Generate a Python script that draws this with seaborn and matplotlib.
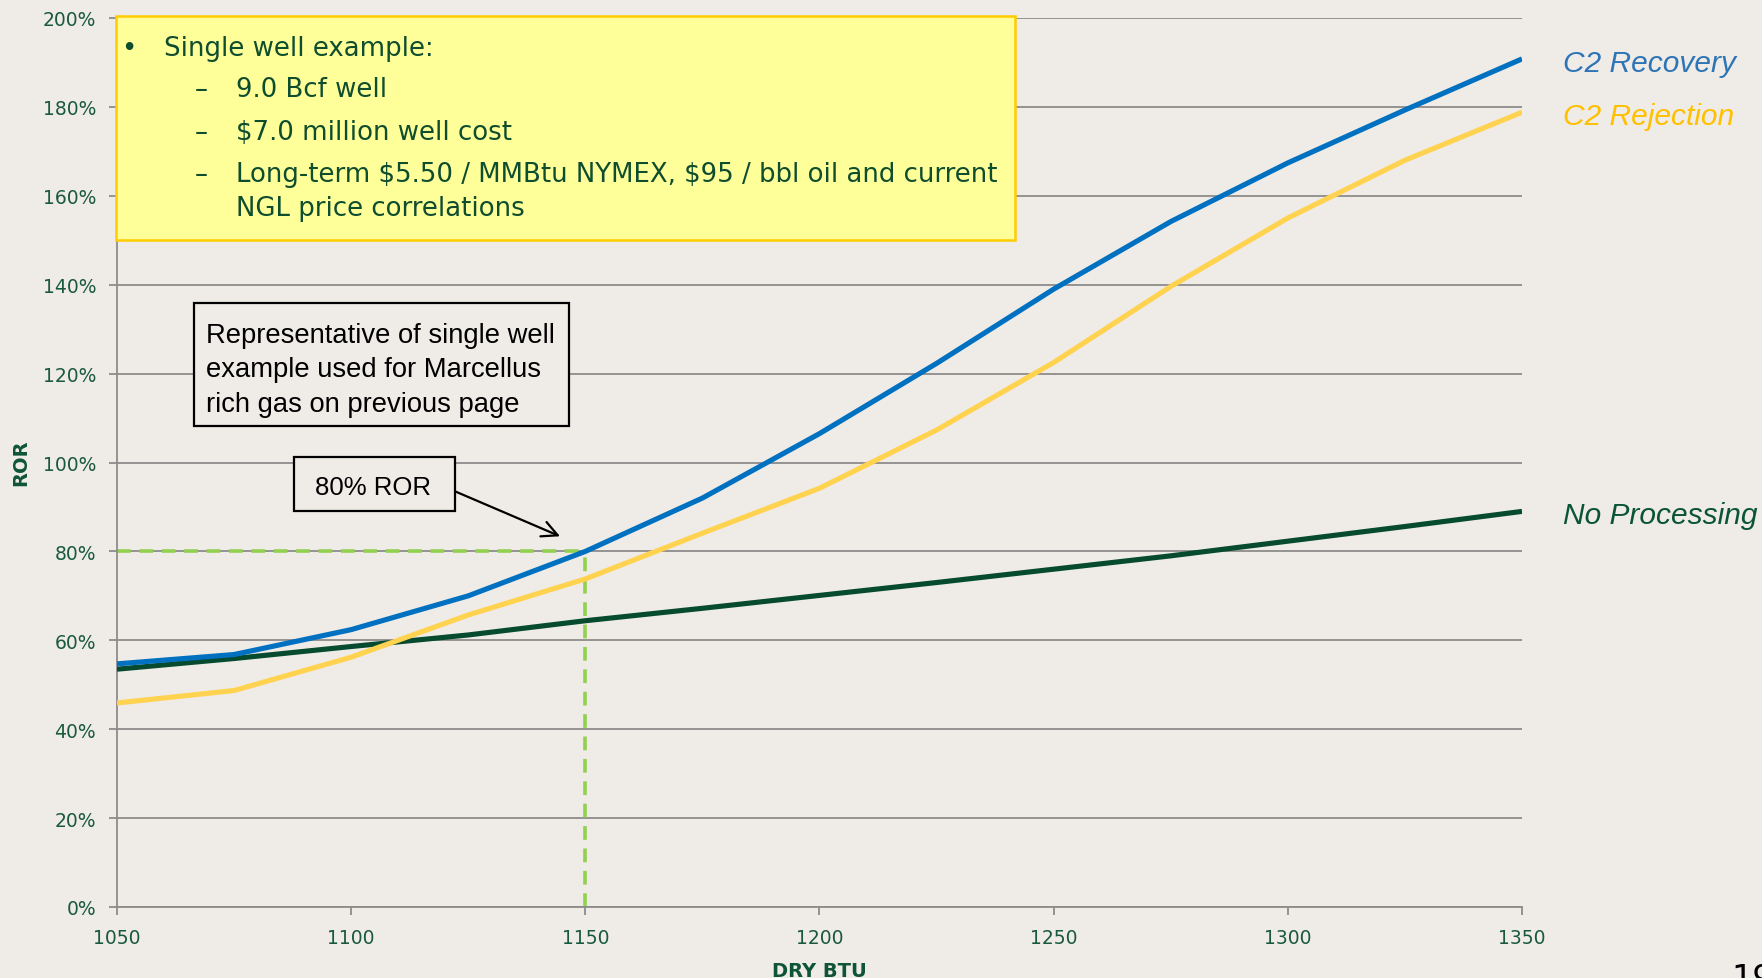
import matplotlib
matplotlib.use("Agg")
import matplotlib.pyplot as plt
import pandas as pd
import seaborn as sns
from matplotlib.patches import Rectangle
from matplotlib.ticker import FuncFormatter

# ---- data -------------------------------------------------------------
dry_btu = [1050, 1075, 1100, 1125, 1150, 1175, 1200, 1225, 1250, 1275, 1300, 1325, 1350]
c2_recovery = [54.7, 56.8, 62.4, 70.0, 80.0, 92.0, 106.5, 122.3, 139.0, 154.2, 167.4, 179.3, 190.8]
c2_rejection = [45.9, 48.7, 56.2, 65.7, 73.8, 84.1, 94.2, 107.3, 122.5, 139.6, 155.0, 168.0, 178.8]
no_processing = [53.5, 55.9, 58.6, 61.2, 64.4, 67.2, 70.1, 73.0, 76.0, 79.0, 82.3, 85.6, 89.0]

series_names = ["No Processing", "C2 Rejection", "C2 Recovery"]
x_ticks = [1050, 1100, 1150, 1200, 1250, 1300, 1350]
y_ticks = [0, 20, 40, 60, 80, 100, 120, 140, 160, 180, 200]

target_btu = 1150
target_ror = 80

info_title = "Single well example:"
info_items = [
    "9.0 Bcf well",
    "$7.0 million well cost",
    "Long-term $5.50 / MMBtu NYMEX, $95 / bbl oil and current\nNGL price correlations",
]
note_text = "Representative of single well\nexample used for Marcellus\nrich gas on previous page"
callout_text = "80% ROR"

# ---- styling ----------------------------------------------------------
BG = "#EFEBE7"
GRID = "#8E8C8A"
TICK_TXT = "#1A5A3A"
LINE_COLORS = {"C2 Recovery": "#0070C0", "C2 Rejection": "#FFD34F", "No Processing": "#064A30"}
LABEL_COLORS = {"C2 Recovery": "#2E75B6", "C2 Rejection": "#FFC000", "No Processing": "#0A5536"}
BOX_TXT = "#0F4D2F"

sns.set_theme(style="white")
plt.rcParams["font.family"] = ["DejaVu Sans"]
plt.rcParams["text.parse_math"] = False

W, H = 1762, 979
fig = plt.figure(figsize=(W / 100, H / 100), dpi=100, facecolor=BG)
ax = fig.add_axes([117 / W, 1 - 908 / H, (1522 - 117) / W, (908 - 19) / H])
ax.set_facecolor(BG)

df = pd.DataFrame({
    "DRY BTU": dry_btu * 3,
    "ROR": no_processing + c2_rejection + c2_recovery,
    "Case": [n for n in series_names for _ in dry_btu],
})

# reference dashes at 80% ROR
dash = (0, (3.8, 2.4))
ax.plot([dry_btu[0], target_btu], [target_ror, target_ror], color="#92D050",
        lw=2.6, linestyle=dash, zorder=2.2)
ax.plot([target_btu, target_btu], [0, target_ror], color="#92D050",
        lw=2.6, linestyle=dash, zorder=2.2)

sns.lineplot(data=df, x="DRY BTU", y="ROR", hue="Case", hue_order=series_names,
             palette=LINE_COLORS, linewidth=3.7, legend=False, ax=ax,
             estimator=None, sort=True, zorder=3)
for ln in ax.lines[2:]:
    ln.set_solid_capstyle("butt")
    ln.set_solid_joinstyle("round")

ax.set_xlim(1050, 1350)
ax.set_ylim(0, 200)
ax.set_xticks(x_ticks)
ax.set_yticks(y_ticks)
ax.yaxis.set_major_formatter(FuncFormatter(lambda v, p: f"{v:.0f}%"))
ax.set_xlabel("")
ax.set_ylabel("")
ax.yaxis.grid(True, color=GRID, lw=1.3)
ax.xaxis.grid(False)
ax.set_axisbelow(True)
for s in ["top", "right"]:
    ax.spines[s].set_visible(False)
for s in ["left", "bottom"]:
    ax.spines[s].set_color(GRID)
    ax.spines[s].set_linewidth(1.3)
ax.tick_params(axis="both", colors=GRID, length=6, width=1.3, direction="out",
               labelsize=13.5, labelcolor=TICK_TXT, pad=9)
ax.tick_params(axis="x", bottom=True)
ax.tick_params(axis="y", left=True)

# axis titles
fig.text(21 / W, 1 - 463 / H, "ROR", rotation=90, ha="center", va="center",
         fontsize=14, fontweight="bold", color="#0E5535")
fig.text(819 / W, 1 - 962 / H, "DRY BTU", ha="center", va="top",
         fontsize=14, fontweight="bold", color="#0E5535")

# series labels at right
label_pos = {"C2 Recovery": 64, "C2 Rejection": 117, "No Processing": 516}
for name, ypx in label_pos.items():
    fig.text(1563 / W, 1 - ypx / H, name, ha="left", va="center", fontsize=21.5,
             style="italic", color=LABEL_COLORS[name], family=["Liberation Sans", "DejaVu Sans"])

# yellow info box
ax.add_patch(Rectangle((1049.7, 150.0), 192.0, 50.5, facecolor="#FFFF99",
                       edgecolor="#FFCC00", lw=1.8, zorder=5, clip_on=False))
bx_font = dict(fontsize=18.7, color=BOX_TXT, family=["DejaVu Sans"],
               zorder=6, va="center", clip_on=False)
ax.text(1050.9, 193.3, "\u2022", ha="left", **bx_font)
ax.text(1060.0, 193.3, info_title, ha="left", **bx_font)
item_y = [184.0, 174.4, 165.0]
for yv, item in zip(item_y, info_items):
    ax.text(1066.5, yv, "\u2013", ha="left", **bx_font)
    first, *rest = item.split("\n")
    ax.text(1075.4, yv, first, ha="left", **bx_font)
    if rest:
        ax.text(1075.4, 157.2, rest[0], ha="left", **bx_font)

# note box
ax.add_patch(Rectangle((1066.5, 108.2), 80.1, 27.6, facecolor=BG,
                       edgecolor="black", lw=1.6, zorder=5))
ax.text(1068.9, 121.0, note_text, ha="left", va="center", fontsize=19.7,
        color="black", linespacing=1.42, family=["Liberation Sans", "DejaVu Sans"], zorder=6)

# 80% ROR callout
ax.add_patch(Rectangle((1087.8, 89.0), 34.3, 12.2, facecolor=BG,
                       edgecolor="black", lw=1.6, zorder=5))
ax.text(1104.7, 94.5, callout_text, ha="center", va="center", fontsize=18.5,
        color="black", family=["Liberation Sans", "DejaVu Sans"], zorder=6)
ax.annotate("", xy=(1144.6, 83.4), xytext=(1122.2, 93.5),
            arrowprops=dict(arrowstyle="->", color="black", lw=1.6,
                            mutation_scale=28, shrinkA=0, shrinkB=0), zorder=6)

# page number
fig.text(1731 / W, 1 - 963 / H, "19", ha="left", va="top", fontsize=24, color="black")

fig.savefig("out.png", dpi=100, facecolor=BG)
